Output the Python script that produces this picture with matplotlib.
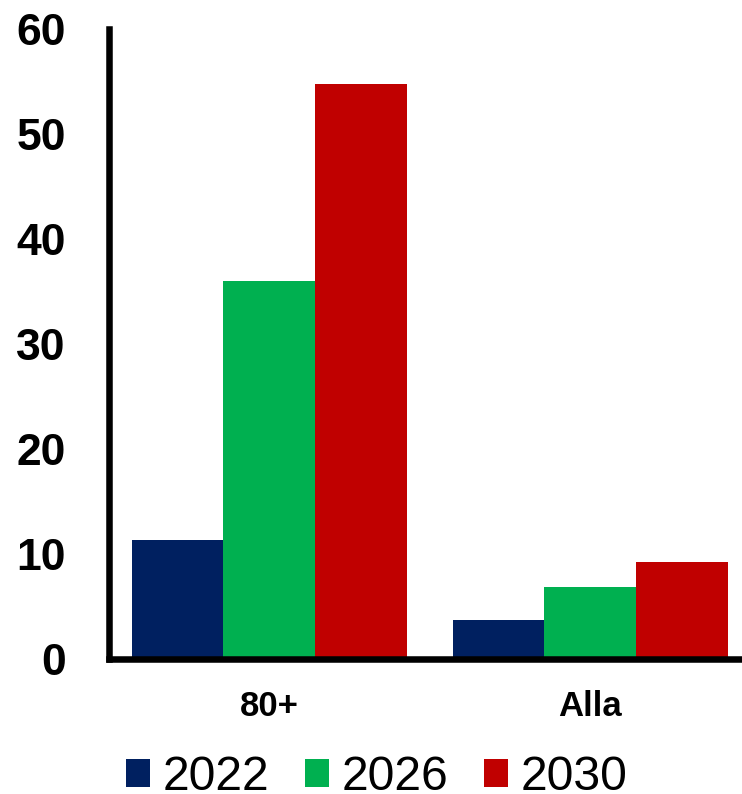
import matplotlib
matplotlib.use("Agg")
import matplotlib.pyplot as plt
import numpy as np

plt.rcParams["font.family"] = ["Liberation Sans", "DejaVu Sans"]

categories = ["80+", "Alla"]
years = ["2022", "2026", "2030"]
values_2022 = [11.4, 3.8]
values_2026 = [36.0, 6.9]
values_2030 = [54.8, 9.3]
series = [values_2022, values_2026, values_2030]
colours = ["#002060", "#00B050", "#C00000"]

fig = plt.figure(figsize=(7.42, 7.94), dpi=100)
ax = fig.add_axes((0.1469, 0.1694, 1.0 - 0.1469, 0.9632 - 0.1694))

x = np.arange(len(categories))
width = 0.2857
for k, (vals, col, yr) in enumerate(zip(series, colours, years)):
    ax.bar(x + (k - 1) * width, vals, width, color=col, label=yr,
           edgecolor="none")

ax.set_xlim(-0.499, 1.473)
ax.set_ylim(0, 60)
ax.set_yticks(range(0, 61, 10))
ax.set_xticks(x)
ax.set_xticklabels(categories)

for side in ("top", "right"):
    ax.spines[side].set_visible(False)
for side in ("left", "bottom"):
    ax.spines[side].set_linewidth(4.7)
    ax.spines[side].set_capstyle("projecting")

ax.tick_params(axis="y", length=0, pad=31, labelsize=32)
ax.tick_params(axis="x", length=0, pad=22, labelsize=25)
for lab in ax.get_yticklabels() + ax.get_xticklabels():
    lab.set_fontweight("bold")

fig.legend(loc="center", bbox_to_anchor=(0.5075, 0.0205), ncol=3,
           frameon=False, fontsize=34.7, handlelength=0.5, handleheight=0.5,
           handletextpad=0.25, columnspacing=0.75, borderpad=0)

fig.savefig("out.png", dpi=100)
